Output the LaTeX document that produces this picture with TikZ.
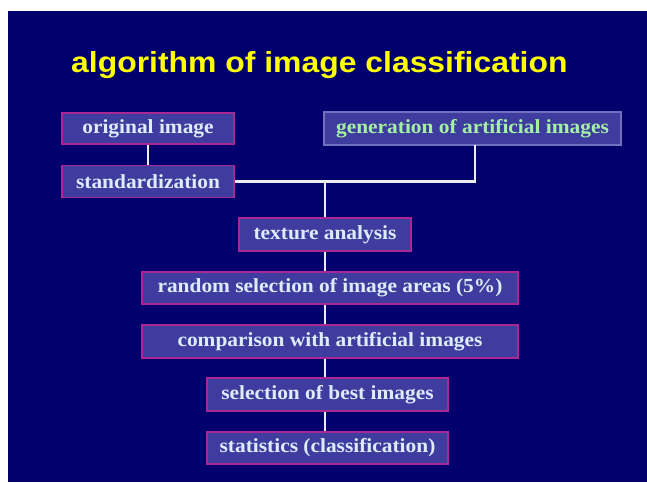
\documentclass[tikz,border=0pt]{standalone}
\usepackage{graphicx}
\usepackage{fontspec}
\setmainfont{Liberation Serif}
\newfontfamily\titlefont{Liberation Sans}
\definecolor{navy}{RGB}{2,0,108}
\definecolor{boxfill}{RGB}{62,60,158}
\definecolor{boxedge}{RGB}{170,40,150}
\definecolor{genedge}{RGB}{112,112,190}
\definecolor{boxtext}{RGB}{222,236,250}
\definecolor{gentext}{RGB}{165,240,165}
\definecolor{titlecol}{RGB}{255,255,0}
\definecolor{linecol}{RGB}{235,235,240}
\newcommand{\bxt}[1]{\scalebox{1.07}[1]{#1}}
\tikzset{
  stepbox/.style={draw=boxedge, fill=boxfill, line width=1.5pt, inner sep=0pt,
    text=boxtext, font=\fontsize{20}{20}\selectfont\bfseries, align=center},
  genbox/.style={stepbox, draw=genedge, text=gentext},
  link/.style={draw=linecol, line width=2.5pt}
}
\begin{document}
\begin{tikzpicture}[x=1pt,y=-1pt]
\useasboundingbox (0,0) rectangle (647,482);
\fill[white] (0,0) rectangle (647,482);
\fill[navy] (8,11) rectangle (647,482);
\node[anchor=base west, text=titlecol, font=\titlefont\fontsize{29}{29}\selectfont\bfseries, inner sep=0pt] (title) at (71,72) {\scalebox{1.1}[1]{algorithm of image classification}};
\node[stepbox, minimum width=172pt, minimum height=31pt] (orig) at (148,128.5) {\bxt{original image}};
\node[stepbox, minimum width=172pt, minimum height=32pt] (std) at (148,181.5) {\bxt{standardization}};
\node[genbox, minimum width=297pt, minimum height=33pt] (gen) at (472.5,128.5) {\bxt{generation of artificial images}};
\node[stepbox, minimum width=172pt, minimum height=33pt] (tex) at (325,234.5) {\bxt{texture analysis}};
\node[stepbox, minimum width=376pt, minimum height=32pt] (rand) at (330,288) {\bxt{random selection of image areas (5\%)}};
\node[stepbox, minimum width=376pt, minimum height=33pt] (comp) at (330,341.5) {\bxt{comparison with artificial images}};
\node[stepbox, minimum width=241pt, minimum height=33pt] (best) at (327.5,394.5) {\bxt{selection of best images}};
\node[stepbox, minimum width=241pt, minimum height=32pt] (stat) at (327.5,448) {\bxt{statistics (classification)}};
\coordinate (g) at (475,145);
\coordinate (j) at (325,181.5);
\draw[link] (orig.south) -- (std.north);
\draw[link] (std.east) -| (g);
\draw[link] (j) -- (tex.north);
\draw[link] (tex.south) -- (tex.south |- rand.north);
\draw[link] (tex.south |- rand.south) -- (tex.south |- comp.north);
\draw[link] (tex.south |- comp.south) -- (tex.south |- best.north);
\draw[link] (tex.south |- best.south) -- (tex.south |- stat.north);
\end{tikzpicture}
\end{document}
